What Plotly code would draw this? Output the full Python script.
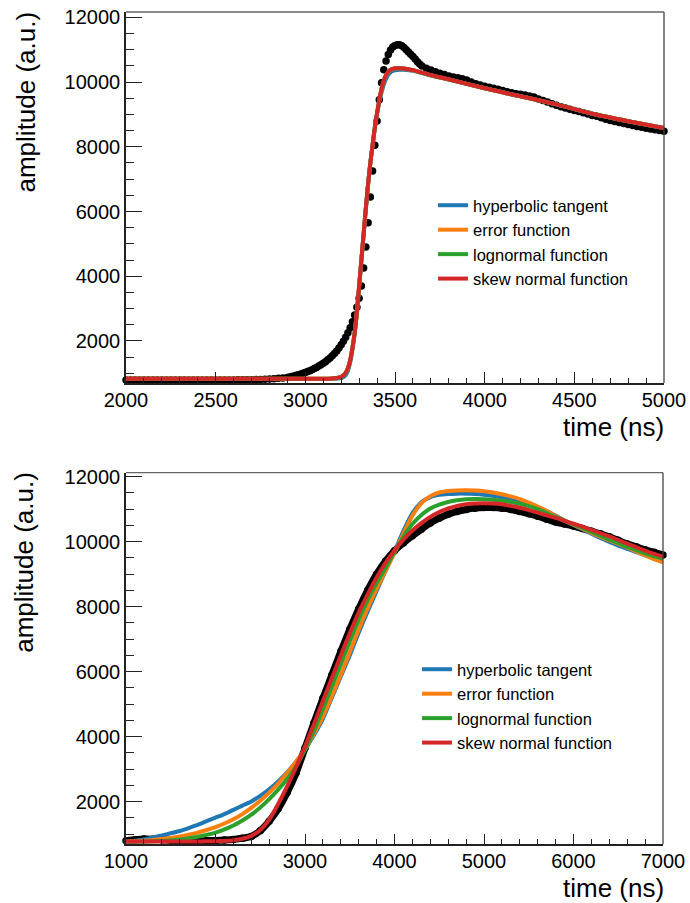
import plotly.graph_objects as go

# ---------------- DATA ----------------
names = ["hyperbolic tangent", "error function", "lognormal function", "skew normal function"]
colors = ["#1f77b4", "#ff7f0e", "#2ca02c", "#d62728"]

# Top panel: measured samples (time in ns, amplitude in a.u.)
top_t_a = list(range(2000, 2900, 25))
top_v_a = [790, 792, 789, 791, 790, 793, 791, 790, 792, 794,
           791, 790, 793, 792, 790, 791, 794, 792, 791, 793,
           795, 792, 794, 796, 795, 797, 799, 801, 804, 808,
           812, 818, 825, 834, 845, 856]
top_t_b = [2900 + 12.5 * i for i in range(60)]
top_v_b = [870, 885, 900, 918, 936, 956, 978, 1000, 1025, 1052,
           1080, 1112, 1145, 1182, 1222, 1265, 1310, 1360, 1415, 1475,
           1540, 1610, 1690, 1780, 1880, 1990, 2110, 2250, 2410, 2590,
           2800, 3040, 3320, 3700, 4250, 4900, 5650, 6450, 7250, 8050,
           8800, 9450, 9980, 10380, 10650, 10850, 10990, 11080, 11130, 11155,
           11150, 11120, 11070, 11000, 10930, 10860, 10790, 10710, 10630, 10560]
top_t_c = list(range(3650, 5001, 25))
top_v_c = [10500, 10430, 10370, 10320, 10270, 10230, 10190, 10160, 10130, 10100,
           10060, 10000, 9950, 9910, 9870, 9840, 9810, 9780, 9740, 9700,
           9670, 9640, 9620, 9600, 9570, 9540, 9480, 9430, 9380, 9330,
           9280, 9240, 9200, 9160, 9120, 9090, 9050, 9010, 8970, 8940,
           8900, 8850, 8810, 8780, 8750, 8720, 8690, 8660, 8630, 8600,
           8570, 8550, 8530, 8500, 8480]

# Top panel: fitted curves
top_fit_t = [2000, 2500, 3000, 3100, 3150, 3175, 3200,
             3212.5, 3225, 3237.5, 3250, 3262.5, 3275, 3287.5, 3300, 3312.5, 3325,
             3337.5, 3350, 3362.5, 3375, 3387.5, 3400, 3412.5, 3425, 3437.5, 3450,
             3462.5, 3475, 3487.5, 3500, 3525, 3550, 3600, 3700, 3800, 4000,
             4200, 4400, 4600, 4800, 5000]
top_tanh = [825, 825, 825, 826, 828, 834, 850,
            880, 945, 1080, 1330, 1720, 2230, 2850, 3650, 4480, 5300,
            6100, 6850, 7500, 8050, 8580, 9000, 9380, 9680, 9920, 10100,
            10220, 10300, 10340, 10365, 10380, 10380, 10350, 10200, 10075, 9810,
            9560, 9310, 9020, 8790, 8580]
top_erf = [828, 828, 828, 831, 838, 852, 885,
           930, 1010, 1150, 1395, 1775, 2245, 2900, 3700, 4500, 5300,
           6100, 6850, 7500, 8050, 8590, 9040, 9430, 9780, 10030, 10200,
           10305, 10370, 10400, 10418, 10425, 10415, 10365, 10210, 10080, 9810,
           9560, 9310, 9020, 8790, 8580]
top_lognorm = [829, 829, 829, 832, 840, 855, 888,
               935, 1015, 1155, 1400, 1778, 2248, 2900, 3700, 4500, 5300,
               6100, 6850, 7500, 8050, 8595, 9045, 9440, 9790, 10040, 10210,
               10312, 10375, 10405, 10422, 10428, 10418, 10368, 10212, 10082, 9810,
               9560, 9310, 9020, 8790, 8580]
top_skew = [830, 830, 830, 834, 842, 858, 892,
            940, 1020, 1160, 1405, 1780, 2250, 2900, 3700, 4500, 5300,
            6100, 6850, 7500, 8050, 8600, 9050, 9450, 9800, 10050, 10220,
            10320, 10380, 10410, 10425, 10430, 10420, 10370, 10215, 10085, 9810,
            9560, 9310, 9020, 8790, 8580]

# Bottom panel (time 1000..7000 ns, every 100 ns)
bot_t = list(range(1000, 7001, 100))
bot_data = [800, 830, 850, 845, 830, 815, 805, 800, 800, 805,
            810, 820, 840, 875, 930, 1110, 1400, 1780, 2280, 2880,
            3650, 4420, 5180, 5900, 6620, 7300, 7930, 8500, 9000, 9400,
            9720, 9960, 10180, 10380, 10570, 10720, 10840, 10930, 10990, 11030,
            11050, 11050, 11030, 10990, 10930, 10860, 10780, 10690, 10600, 10540,
            10480, 10400, 10320, 10240, 10150, 10040, 9930, 9840, 9750, 9670,
            9590]
bot_tanh = [770, 800, 840, 900, 960, 1030, 1100, 1190, 1290, 1400,
            1510, 1620, 1750, 1880, 2010, 2180, 2380, 2620, 2900, 3230,
            3600, 4050, 4550, 5200, 5850, 6500, 7200, 7850, 8480, 9100,
            9700, 10330, 10880, 11210, 11370, 11440, 11465, 11475, 11475, 11465,
            11445, 11410, 11360, 11295, 11220, 11140, 11050, 10940, 10800, 10650,
            10510, 10380, 10240, 10110, 9990, 9880, 9780, 9680, 9580, 9480,
            9390]
bot_erf = [765, 780, 800, 822, 850, 885, 930, 985, 1050, 1130,
           1220, 1330, 1460, 1620, 1810, 2030, 2280, 2560, 2880, 3230,
           3620, 4100, 4620, 5250, 5900, 6600, 7300, 7950, 8550, 9100,
           9650, 10250, 10800, 11180, 11400, 11510, 11555, 11575, 11580, 11572,
           11550, 11510, 11455, 11390, 11310, 11200, 11080, 10940, 10790, 10650,
           10520, 10400, 10270, 10150, 10040, 9930, 9820, 9700, 9580, 9460,
           9360]
bot_lognorm = [760, 765, 772, 782, 795, 812, 838, 875, 920, 980,
               1050, 1150, 1270, 1420, 1600, 1820, 2080, 2370, 2700, 3080,
               3600, 4180, 4850, 5540, 6230, 6930, 7600, 8200, 8730, 9200,
               9680, 10150, 10540, 10820, 11020, 11140, 11220, 11270, 11300, 11310,
               11305, 11290, 11260, 11220, 11160, 11090, 11000, 10880, 10760, 10640,
               10530, 10420, 10300, 10180, 10060, 9950, 9840, 9740, 9640, 9550,
               9480]
bot_skew = [775, 775, 775, 775, 775, 775, 776, 777, 778, 780,
            785, 795, 815, 860, 950, 1130, 1450, 1930, 2470, 3060,
            3700, 4380, 5100, 5800, 6500, 7180, 7820, 8380, 8900, 9350,
            9730, 10060, 10340, 10570, 10760, 10910, 11020, 11100, 11150, 11175,
            11180, 11175, 11150, 11100, 11040, 10970, 10890, 10810, 10730, 10640,
            10550, 10460, 10360, 10260, 10160, 10050, 9940, 9830, 9720, 9620,
            9530]

# ---------------- FIGURE ----------------
W, H = 690, 903
FONT = "Liberation Sans, Arial, Helvetica, sans-serif"

fig = go.Figure()

fig.add_trace(go.Scatter(
    x=top_t_a + top_t_b + top_t_c, y=top_v_a + top_v_b + top_v_c,
    mode="markers", marker=dict(color="black", size=7.5, line=dict(width=0)),
    showlegend=False, xaxis="x", yaxis="y", cliponaxis=False))
for nm, vals, col in zip(names, [top_tanh, top_erf, top_lognorm, top_skew], colors):
    fig.add_trace(go.Scatter(
        x=top_fit_t, y=vals, mode="lines", name=nm,
        line=dict(color=col, width=4, shape="spline", smoothing=0.5),
        xaxis="x", yaxis="y", legend="legend"))

fig.add_trace(go.Scatter(
    x=bot_t, y=bot_data, mode="lines+markers",
    line=dict(color="black", width=7, shape="spline", smoothing=0.5),
    marker=dict(color="black", size=7.5),
    showlegend=False, xaxis="x2", yaxis="y2", cliponaxis=False))
for nm, vals, col in zip(names, [bot_tanh, bot_erf, bot_lognorm, bot_skew], colors):
    fig.add_trace(go.Scatter(
        x=bot_t, y=vals, mode="lines", name=nm,
        line=dict(color=col, width=4, shape="spline", smoothing=0.5),
        xaxis="x2", yaxis="y2", legend="legend2"))

axis_common = dict(
    showline=True, linecolor="#222", linewidth=1.6,
    ticks="inside", tickcolor="#222", tickwidth=1.2,
    tickfont=dict(family=FONT, size=20, color="black"),
    tickformat="d", automargin=False,
    showgrid=False, zeroline=False, tick0=0,
)

top_xd = [126 / W, 664 / W]
top_yd = [1 - 383 / H, 1 - 12 / H]
bot_xd = [126 / W, 663 / W]
bot_yd = [1 - 844.3 / H, 1 - 472.7 / H]

fig.update_layout(
    width=W, height=H,
    margin=dict(l=0, r=0, t=0, b=0, autoexpand=False),
    paper_bgcolor="white", plot_bgcolor="white",
    font=dict(family=FONT, color="black"),
    xaxis=dict(domain=top_xd, anchor="y", range=[2000, 5000], dtick=500, ticklen=11,
               ticklabelstandoff=-2,
               minor=dict(dtick=100, ticks="inside", ticklen=5.5, tickcolor="#222", tickwidth=1.2),
               **axis_common),
    yaxis=dict(domain=top_yd, anchor="x", range=[700, 12165], dtick=2000, ticklen=16,
               minor=dict(dtick=500, ticks="inside", ticklen=8, tickcolor="#222", tickwidth=1.2),
               **axis_common),
    xaxis2=dict(domain=bot_xd, anchor="y2", range=[1000, 7000], dtick=1000, ticklen=11,
                ticklabelstandoff=-2,
                minor=dict(dtick=200, ticks="inside", ticklen=5.5, tickcolor="#222", tickwidth=1.2),
                **axis_common),
    yaxis2=dict(domain=bot_yd, anchor="x2", range=[690, 12120], dtick=2000, ticklen=16,
                minor=dict(dtick=500, ticks="inside", ticklen=8, tickcolor="#222", tickwidth=1.2),
                **axis_common),
    legend=dict(x=433 / W, y=1 - 188 / H, xanchor="left", yanchor="top",
                bgcolor="rgba(0,0,0,0)", borderwidth=0, tracegroupgap=0,
                font=dict(family=FONT, size=16.5, color="black"), itemwidth=30),
    legend2=dict(x=417 / W, y=1 - 652 / H, xanchor="left", yanchor="top",
                 bgcolor="rgba(0,0,0,0)", borderwidth=0, tracegroupgap=0,
                 font=dict(family=FONT, size=16.5, color="black"), itemwidth=30),
    showlegend=True,
)

# frame (top and right edges)
for xr, yr in [("x domain", "y domain"), ("x2 domain", "y2 domain")]:
    fig.add_shape(type="line", xref=xr, yref=yr, x0=0, x1=1, y0=1, y1=1,
                  line=dict(color="#666", width=1.3))
    fig.add_shape(type="line", xref=xr, yref=yr, x0=1, x1=1, y0=0, y1=1,
                  line=dict(color="#444", width=1.3))

# axis titles (ROOT style: aligned at axis end)
ann = [
    dict(text="amplitude (a.u.)", x=25.8 / W, y=1 - 101.7 / H, textangle=-90),
    dict(text="amplitude (a.u.)", x=23.3 / W, y=1 - 562.5 / H, textangle=-90),
    dict(text="time (ns)", x=666 / W, y=1 - 427 / H, xanchor="right"),
    dict(text="time (ns)", x=666 / W, y=1 - 888 / H, xanchor="right"),
]
for a in ann:
    fig.add_annotation(xref="paper", yref="paper", showarrow=False,
                       xanchor=a.get("xanchor", "center"), yanchor="middle",
                       font=dict(family=FONT, size=26, color="black"),
                       **{k: v for k, v in a.items() if k != "xanchor"})

fig.write_html("out.html")
